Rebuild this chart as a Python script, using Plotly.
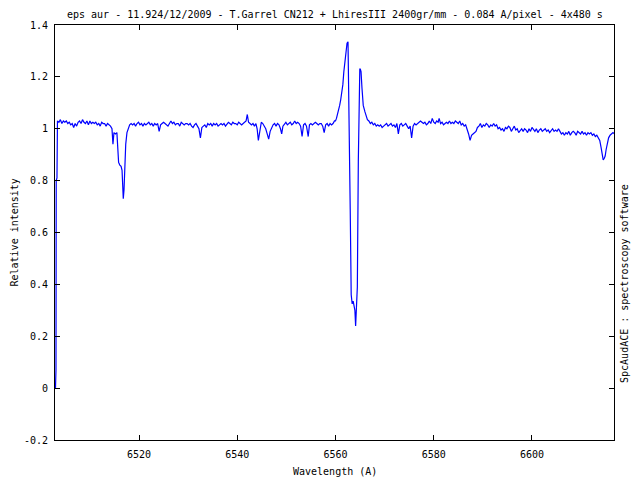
import plotly.graph_objects as go

wavelength = [
    6503.00, 6503.10, 6503.15, 6503.30, 6503.40, 6503.70, 6504.00, 6504.30, 6504.60, 6504.90,
    6505.20, 6505.50, 6505.80, 6506.10, 6506.40, 6506.70, 6507.00, 6507.30, 6507.60, 6507.90,
    6508.20, 6508.50, 6508.80, 6509.10, 6509.40, 6509.70, 6510.00, 6510.30, 6510.60, 6510.90,
    6511.20, 6511.50, 6511.80, 6512.10, 6512.40, 6512.70, 6513.00, 6513.30, 6513.60, 6513.90,
    6514.20, 6514.50, 6514.70, 6514.90, 6515.20, 6515.50, 6515.70, 6515.85, 6516.10, 6516.35,
    6516.55, 6516.70, 6516.80, 6516.95, 6517.10, 6517.30, 6517.55, 6517.80, 6518.10, 6518.40,
    6518.70, 6519.00, 6519.30, 6519.60, 6519.90, 6520.20, 6520.50, 6520.80, 6521.10, 6521.40,
    6521.70, 6522.00, 6522.30, 6522.60, 6522.90, 6523.20, 6523.50, 6523.80, 6524.10, 6524.40,
    6524.70, 6525.00, 6525.30, 6525.60, 6525.90, 6526.20, 6526.50, 6526.80, 6527.10, 6527.40,
    6527.70, 6528.00, 6528.30, 6528.60, 6528.90, 6529.20, 6529.50, 6529.80, 6530.10, 6530.40,
    6530.70, 6531.00, 6531.30, 6531.60, 6531.90, 6532.20, 6532.50, 6532.80, 6533.10, 6533.40,
    6533.70, 6534.00, 6534.30, 6534.60, 6534.90, 6535.20, 6535.50, 6535.80, 6536.10, 6536.40,
    6536.70, 6537.00, 6537.30, 6537.60, 6537.90, 6538.20, 6538.50, 6538.80, 6539.10, 6539.40,
    6539.70, 6540.00, 6540.30, 6540.60, 6540.90, 6541.20, 6541.50, 6541.80, 6542.05, 6542.30,
    6542.60, 6542.90, 6543.20, 6543.50, 6543.80, 6544.05, 6544.30, 6544.60, 6544.90, 6545.20,
    6545.50, 6545.80, 6546.10, 6546.40, 6546.70, 6547.00, 6547.30, 6547.60, 6547.90, 6548.20,
    6548.50, 6548.80, 6549.05, 6549.30, 6549.60, 6549.90, 6550.20, 6550.50, 6550.80, 6551.10,
    6551.40, 6551.70, 6552.00, 6552.30, 6552.60, 6552.90, 6553.20, 6553.50, 6553.80, 6554.10,
    6554.45, 6554.70, 6555.00, 6555.30, 6555.60, 6555.90, 6556.20, 6556.50, 6556.80, 6557.10,
    6557.40, 6557.70, 6558.00, 6558.30, 6558.60, 6558.90, 6559.20, 6559.50, 6559.80, 6560.00,
    6560.20, 6560.50, 6560.85, 6561.05, 6561.25, 6561.50, 6561.70, 6561.90, 6562.20, 6562.35,
    6562.55, 6562.62, 6562.75, 6563.00, 6563.20, 6563.40, 6563.60, 6563.80, 6563.95, 6564.10,
    6564.25, 6564.45, 6564.65, 6564.80, 6564.95, 6565.05, 6565.20, 6565.40, 6565.65, 6566.00,
    6566.30, 6566.50, 6566.80, 6567.10, 6567.40, 6567.70, 6568.00, 6568.30, 6568.60, 6568.90,
    6569.20, 6569.50, 6569.80, 6570.10, 6570.40, 6570.70, 6571.00, 6571.30, 6571.60, 6571.90,
    6572.20, 6572.50, 6572.80, 6573.10, 6573.40, 6573.70, 6574.00, 6574.30, 6574.60, 6574.90,
    6575.20, 6575.50, 6575.80, 6576.10, 6576.40, 6576.70, 6577.00, 6577.30, 6577.60, 6577.90,
    6578.20, 6578.50, 6578.80, 6579.10, 6579.40, 6579.70, 6580.00, 6580.30, 6580.60, 6580.90,
    6581.10, 6581.40, 6581.70, 6582.00, 6582.30, 6582.60, 6582.90, 6583.20, 6583.50, 6583.80,
    6584.10, 6584.40, 6584.70, 6585.00, 6585.30, 6585.60, 6585.90, 6586.20, 6586.50, 6586.80,
    6587.10, 6587.40, 6587.70, 6588.00, 6588.30, 6588.60, 6588.90, 6589.20, 6589.50, 6589.80,
    6590.10, 6590.40, 6590.70, 6591.00, 6591.30, 6591.60, 6591.90, 6592.20, 6592.50, 6592.80,
    6593.10, 6593.40, 6593.70, 6594.00, 6594.30, 6594.60, 6594.90, 6595.20, 6595.50, 6595.80,
    6596.10, 6596.40, 6596.70, 6597.00, 6597.30, 6597.60, 6597.90, 6598.20, 6598.50, 6598.80,
    6599.10, 6599.40, 6599.70, 6600.00, 6600.30, 6600.60, 6600.90, 6601.20, 6601.50, 6601.80,
    6602.10, 6602.40, 6602.70, 6603.00, 6603.30, 6603.60, 6603.90, 6604.20, 6604.50, 6604.80,
    6605.10, 6605.40, 6605.70, 6606.00, 6606.30, 6606.60, 6606.90, 6607.20, 6607.50, 6607.80,
    6608.10, 6608.40, 6608.70, 6609.00, 6609.30, 6609.60, 6609.90, 6610.20, 6610.50, 6610.80,
    6611.10, 6611.40, 6611.70, 6612.00, 6612.30, 6612.60, 6612.90, 6613.20, 6613.50, 6613.80,
    6614.05, 6614.30, 6614.50, 6614.70, 6614.90, 6615.10, 6615.35, 6615.60, 6615.90, 6616.20,
    6616.50, 6616.80,
]

intensity = [
    0.000, 0.070, 0.800, 0.810, 1.030, 1.025, 1.035, 1.020, 1.030, 1.025,
    1.030, 1.020, 1.025, 1.015, 1.020, 1.005, 1.020, 1.010, 1.025, 1.030,
    1.020, 1.035, 1.025, 1.020, 1.030, 1.015, 1.030, 1.020, 1.025, 1.020,
    1.025, 1.015, 1.020, 1.010, 1.025, 1.020, 1.020, 1.010, 1.020, 1.015,
    1.010, 1.000, 0.940, 0.985, 0.980, 0.985, 0.930, 0.870, 0.860, 0.855,
    0.840, 0.750, 0.730, 0.765, 0.880, 0.940, 0.985, 1.000, 1.015, 1.020,
    1.015, 1.020, 1.010, 1.020, 1.025, 1.015, 1.020, 1.010, 1.020, 1.015,
    1.020, 1.025, 1.015, 1.020, 1.010, 1.020, 1.015, 1.020, 0.990, 1.015,
    1.020, 1.025, 1.020, 1.015, 1.010, 1.020, 1.030, 1.020, 1.025, 1.015,
    1.020, 1.020, 1.010, 1.025, 1.020, 1.015, 1.020, 1.020, 1.015, 1.020,
    1.010, 1.005, 1.015, 1.020, 1.010, 1.000, 0.965, 1.005, 1.010, 1.015,
    1.005, 1.020, 1.015, 1.020, 1.010, 1.020, 1.015, 1.020, 1.010, 1.015,
    1.020, 1.015, 1.020, 1.010, 1.020, 1.025, 1.020, 1.015, 1.025, 1.020,
    1.020, 1.015, 1.025, 1.020, 1.015, 1.020, 1.025, 1.030, 1.055, 1.025,
    1.020, 1.015, 1.020, 1.010, 1.020, 1.000, 0.955, 1.000, 1.025, 1.020,
    1.010, 1.000, 0.980, 0.960, 0.990, 1.005, 1.015, 1.020, 1.010, 1.020,
    1.015, 1.000, 0.980, 1.010, 1.020, 1.025, 1.015, 1.020, 1.025, 1.015,
    1.020, 1.030, 1.020, 1.025, 1.020, 1.010, 0.970, 1.015, 1.020, 1.010,
    0.970, 1.015, 1.020, 1.015, 1.020, 1.025, 1.020, 1.015, 1.020, 1.020,
    1.010, 0.985, 1.015, 1.020, 1.010, 1.020, 1.015, 1.020, 1.030, 1.030,
    1.040, 1.060, 1.090, 1.110, 1.135, 1.170, 1.220, 1.260, 1.300, 1.330,
    1.335, 1.260, 0.960, 0.690, 0.360, 0.325, 0.335, 0.310, 0.300, 0.240,
    0.290, 0.390, 0.875, 1.130, 1.230, 1.230, 1.220, 1.155, 1.090, 1.065,
    1.040, 1.035, 1.030, 1.020, 1.025, 1.015, 1.020, 1.010, 1.015, 1.010,
    1.015, 1.005, 1.010, 1.015, 1.020, 1.010, 1.015, 1.020, 1.010, 1.015,
    1.005, 1.020, 0.980, 1.015, 1.020, 1.010, 1.015, 1.020, 1.010, 1.000,
    1.010, 0.965, 1.010, 1.020, 1.015, 1.020, 1.025, 1.030, 1.025, 1.020,
    1.025, 1.015, 1.020, 1.030, 1.020, 1.040, 1.025, 1.020, 1.030, 1.025,
    1.040, 1.020, 1.025, 1.015, 1.020, 1.025, 1.020, 1.030, 1.020, 1.025,
    1.020, 1.030, 1.025, 1.020, 1.030, 1.015, 1.020, 1.010, 1.015, 1.000,
    0.980, 0.955, 0.975, 0.980, 0.985, 0.990, 1.005, 1.010, 1.020, 1.005,
    1.015, 1.010, 1.020, 1.015, 1.005, 1.015, 1.010, 1.020, 1.010, 1.015,
    1.000, 1.005, 0.995, 1.000, 0.990, 1.005, 1.000, 1.010, 1.005, 0.990,
    1.000, 1.010, 0.995, 1.000, 0.985, 0.995, 1.000, 0.990, 1.000, 0.995,
    0.985, 1.000, 0.990, 1.005, 0.995, 0.990, 1.000, 0.985, 0.995, 1.000,
    0.990, 0.995, 1.000, 0.990, 0.995, 0.985, 0.995, 1.000, 0.990, 0.995,
    0.990, 1.000, 0.990, 0.980, 0.985, 0.975, 0.985, 0.980, 0.990, 0.975,
    0.985, 0.990, 0.985, 0.975, 0.990, 0.985, 0.980, 0.990, 0.980, 0.985,
    0.975, 0.985, 0.980, 0.985, 0.975, 0.980, 0.970, 0.975, 0.965, 0.955,
    0.930, 0.895, 0.880, 0.885, 0.895, 0.920, 0.940, 0.965, 0.975, 0.980,
    0.985, 0.980,
]

x_ticks = [6520, 6540, 6560, 6580, 6600]
y_ticks = [-0.2, 0, 0.2, 0.4, 0.6, 0.8, 1.0, 1.2, 1.4]
y_ticklabels = ["-0.2", "0", "0.2", "0.4", "0.6", "0.8", "1", "1.2", "1.4"]

title_text = "eps aur - 11.924/12/2009 - T.Garrel CN212 + LhiresIII 2400gr/mm - 0.084 A/pixel - 4x480 s"

FONT = "DejaVu Sans Mono"

fig = go.Figure()
fig.add_trace(go.Scatter(
    x=wavelength, y=intensity, mode="lines",
    line=dict(color="#0000ff", width=1.2),
    showlegend=False,
))

axis_common = dict(
    showline=True, mirror="ticks", linecolor="black", linewidth=1,
    ticks="inside", ticklen=5, tickcolor="black", tickwidth=1,
    showgrid=False, zeroline=False,
    tickfont=dict(family=FONT, size=10, color="black"),
)

fig.update_xaxes(range=[6502.9, 6616.7], tickvals=x_ticks, ticklabelstandoff=5, **axis_common)
fig.update_yaxes(range=[-0.2, 1.4], tickvals=y_ticks, ticktext=y_ticklabels,
                 ticklabelstandoff=4, **axis_common)

fig.update_layout(
    width=640, height=480,
    margin=dict(l=55, r=26, t=25, b=40),
    plot_bgcolor="white", paper_bgcolor="white",
    font=dict(family=FONT, size=10, color="black"),
    annotations=[
        dict(text=title_text, xref="paper", yref="paper", x=0.5, y=1,
             xanchor="center", yanchor="middle", yshift=11, showarrow=False,
             font=dict(family=FONT, size=10, color="black")),
        dict(text="Wavelength (A)", xref="paper", yref="paper", x=0.5, y=0,
             xanchor="center", yanchor="middle", yshift=-31, showarrow=False,
             font=dict(family=FONT, size=10, color="black")),
        dict(text="Relative intensity", xref="paper", yref="paper", x=0, y=0.5,
             xanchor="center", yanchor="middle", xshift=-41, textangle=-90,
             showarrow=False, font=dict(family=FONT, size=10, color="black")),
        dict(text="SpcAudACE : spectroscopy software", xref="paper", yref="paper",
             x=1, y=0.376, xanchor="center", yanchor="middle", xshift=11,
             textangle=-90, showarrow=False,
             font=dict(family=FONT, size=10, color="black")),
    ],
)

fig.write_html(
    "out.html",
    config={"displayModeBar": False},
    post_script="document.body.style.margin='0';document.body.style.padding='0';",
)
